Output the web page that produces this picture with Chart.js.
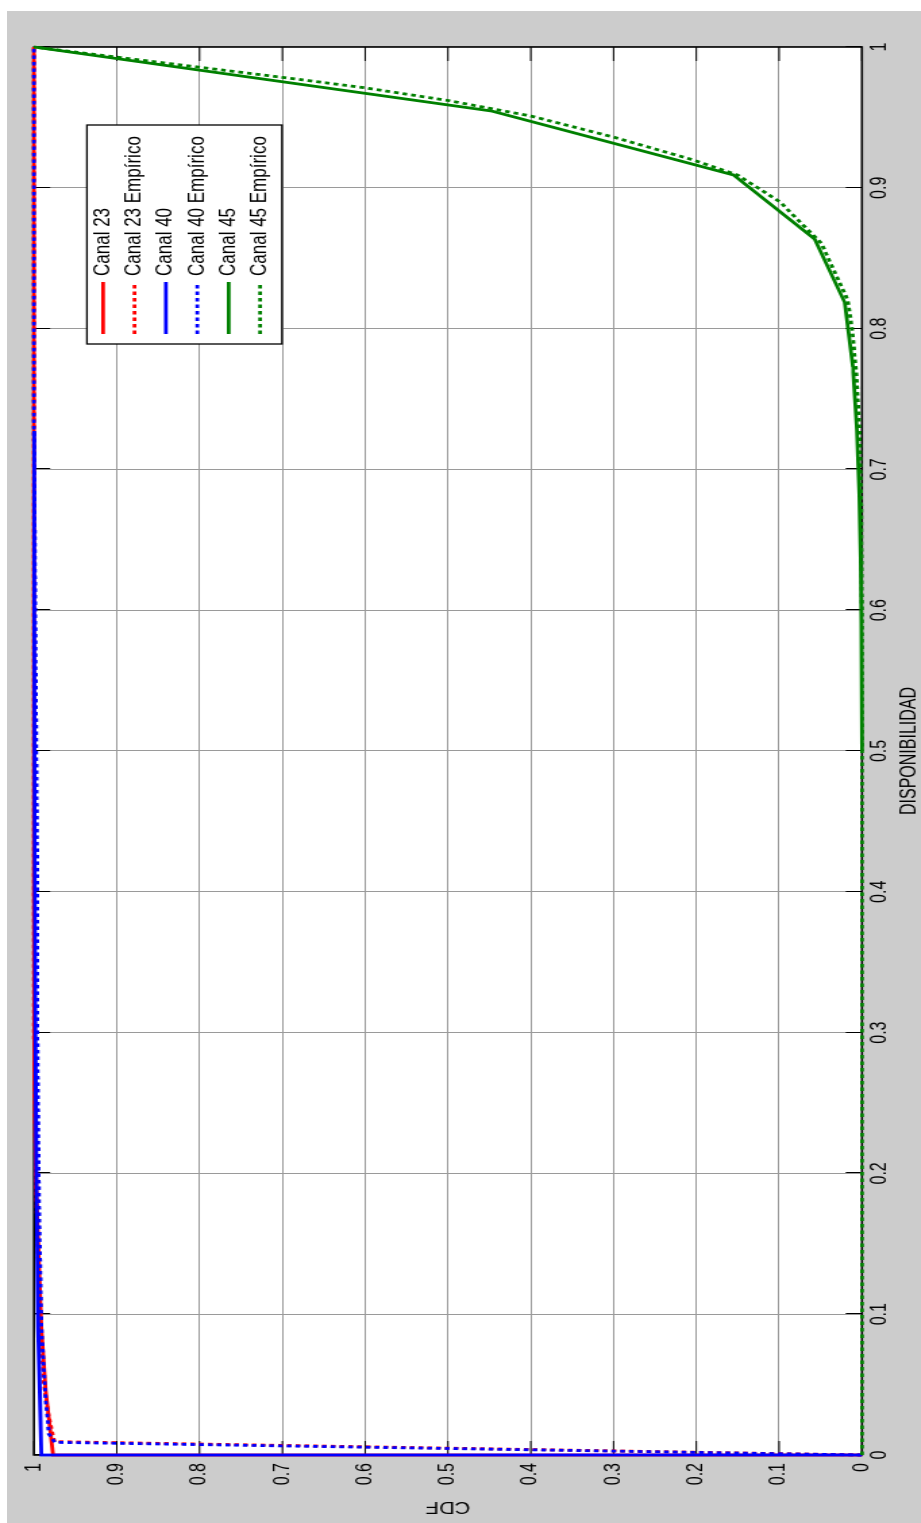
<!DOCTYPE html>
<html>
<head>
<meta charset="utf-8">
<script src="https://cdn.jsdelivr.net/npm/chart.js@4.4.0/dist/chart.umd.min.js"></script>
<style>
  html, body { margin: 0; padding: 0; background: #fff; }
  body { width: 921px; height: 1523px; position: relative; overflow: hidden; }
  .figure-bg { position: absolute; left: 7px; top: 11px; width: 914px; height: 1512px; background: #cccccc; }
  /* the figure is drawn landscape and turned a quarter turn counter-clockwise */
  .figure-rotated { position: absolute; left: 0; top: 0; width: 1523px; height: 921px;
    transform-origin: 0 0; transform: translate(0, 1523px) rotate(-90deg); }
  /* the source image is stretched vertically (tall narrow glyphs) */
  .figure-stretch { width: 1523px; height: 682px; transform-origin: 0 0; transform: scaleY(1.3504); }
</style>
</head>
<body>
<div class="figure-bg"></div>
<div class="figure-rotated"><div class="figure-stretch"><canvas id="js-cdf-chart" width="1523" height="682"></canvas></div></div>
<script>
const cdfCanvas = document.querySelector('#js-cdf-chart');

const tickValues = [0, 0.1, 0.2, 0.3, 0.4, 0.5, 0.6, 0.7, 0.8, 0.9, 1];
const xTickLabels = ['0', '0.1', '0.2', '0.3', '0.4', '0.5', '0.6', '0.7', '0.8', '0.9', '1'];
const yTickLabels = ['0', '0.1', '0.2', '0.3', '0.4', '0.5', '0.6', '0.7', '0.8', '0.9', '1'];

const seriesLabels = ['Canal 23', 'Canal 23 Empírico', 'Canal 40', 'Canal 40 Empírico', 'Canal 45', 'Canal 45 Empírico'];

const canal23X = [0, 0, 0.0455, 0.0909, 0.1364, 0.1818, 0.2273, 0.2727, 0.3182, 0.4, 1];
const canal23Y = [0, 0.977, 0.986, 0.991, 0.994, 0.997, 0.9985, 0.9993, 0.9997, 1, 1];

const canal23EmpX = [0, 0.0095, 0.013, 0.03, 0.05, 0.1, 0.2, 0.3, 1];
const canal23EmpY = [0, 0.975, 0.977, 0.983, 0.988, 0.993, 0.998, 1, 1];

const canal40X = [0, 0, 0.0455, 0.0909, 0.1364, 0.1818, 0.2273, 0.3182, 0.4545, 0.5909, 0.7273];
const canal40Y = [0, 0.991, 0.993, 0.995, 0.996, 0.997, 0.9975, 0.9985, 0.9992, 0.9996, 0.9998];

const canal40EmpX = [0, 0.009, 0.015, 0.04, 0.09, 0.18, 0.3, 0.41, 0.53, 0.645, 0.73, 1];
const canal40EmpY = [0, 0.975, 0.982, 0.986, 0.991, 0.994, 0.996, 0.996, 0.9976, 0.999, 1, 1];

const canal45X = [0.5, 0.5455, 0.5909, 0.6364, 0.6818, 0.7273, 0.7727, 0.8182, 0.8636, 0.9091, 0.9545, 1];
const canal45Y = [0, 0.0002, 0.0006, 0.0015, 0.003, 0.006, 0.011, 0.0205, 0.057, 0.155, 0.447, 1];

const canal45EmpX = [0, 0.6, 0.68, 0.73, 0.77, 0.8, 0.82, 0.8606, 0.89, 0.909, 0.92, 0.936, 0.951, 0.962, 0.971, 0.977, 1];
const canal45EmpY = [0, 0, 0.001, 0.003, 0.007, 0.012, 0.017, 0.049, 0.099, 0.15, 0.205, 0.30, 0.40, 0.50, 0.60, 0.68, 1];

const toPoints = (xs, ys) => xs.map((x, i) => ({ x: x, y: ys[i] }));

const solid = [];
const dotted = [3.5, 3];

function makeSeries(index, xs, ys, color, dash) {
  return {
    label: seriesLabels[index],
    data: toPoints(xs, ys),
    borderColor: color,
    backgroundColor: color,
    borderWidth: 2.8,
    borderDash: dash,
    pointRadius: 0,
    tension: 0,
    clip: 6,
    order: 5 - index
  };
}

const cdfData = {
  datasets: [
    makeSeries(0, canal23X, canal23Y, '#ff0000', solid),
    makeSeries(1, canal23EmpX, canal23EmpY, '#ff0000', dotted),
    makeSeries(2, canal40X, canal40Y, '#0000ff', solid),
    makeSeries(3, canal40EmpX, canal40EmpY, '#0000ff', dotted),
    makeSeries(4, canal45X, canal45Y, '#008000', solid),
    makeSeries(5, canal45EmpX, canal45EmpY, '#008000', dotted)
  ]
};

// white plot area, matlab style box with inward ticks, and the legend box
const matlabFrame = {
  id: 'matlabFrame',
  beforeDraw(chart) {
    const { ctx, chartArea: a } = chart;
    ctx.save();
    ctx.fillStyle = '#fff';
    ctx.fillRect(a.left, a.top, a.right - a.left, a.bottom - a.top);
    ctx.restore();
  },
  beforeDatasetsDraw(chart) {
    const { ctx, chartArea: a, scales } = chart;
    ctx.save();
    ctx.strokeStyle = '#000';
    ctx.lineWidth = 1;
    ctx.beginPath();
    for (const v of tickValues) {
      const px = Math.round(scales.x.getPixelForValue(v)) + 0.5;
      ctx.moveTo(px, a.bottom); ctx.lineTo(px, a.bottom - 12);
      ctx.moveTo(px, a.top); ctx.lineTo(px, a.top + 12);
      const py = scales.y.getPixelForValue(v);
      ctx.moveTo(a.left, py); ctx.lineTo(a.left + 14, py);
      ctx.moveTo(a.right, py); ctx.lineTo(a.right - 14, py);
    }
    ctx.stroke();
    ctx.lineWidth = 1.6;
    ctx.strokeRect(a.left, a.top, a.right - a.left, a.bottom - a.top);
    ctx.restore();
  },
  afterDatasetsDraw(chart) {
    const { ctx } = chart;
    const box = { left: 1179, top: 64.4, width: 219, height: 144.4 };
    const rowStart = 11.9;
    const rowStep = 23.25;
    ctx.save();
    ctx.fillStyle = '#fff';
    ctx.fillRect(box.left, box.top, box.width, box.height);
    ctx.strokeStyle = '#000';
    ctx.lineWidth = 1.3;
    ctx.strokeRect(box.left, box.top, box.width, box.height);
    ctx.font = '17px "Liberation Sans", Arial, sans-serif';
    ctx.textBaseline = 'middle';
    chart.data.datasets.forEach((ds, i) => {
      const rowY = box.top + rowStart + i * rowStep;
      ctx.strokeStyle = ds.borderColor;
      ctx.lineWidth = ds.borderWidth;
      ctx.setLineDash(ds.borderDash);
      ctx.beginPath();
      ctx.moveTo(box.left + 10, rowY);
      ctx.lineTo(box.left + 62, rowY);
      ctx.stroke();
      ctx.setLineDash([]);
      ctx.fillStyle = '#000';
      ctx.fillText(ds.label, box.left + 68, rowY);
    });
    ctx.restore();
  }
};

const cdfConfig = {
  type: 'line',
  data: cdfData,
  options: {
    responsive: false,
    animation: false,
    devicePixelRatio: 1,
    layout: {
      padding: { left: 0, right: 47, top: 25.2, bottom: 0 }
    },
    scales: {
      x: {
        type: 'linear',
        min: 0,
        max: 1,
        afterBuildTicks: (axis) => { axis.ticks = tickValues.map(v => ({ value: v })); },
        afterFit: (axis) => { axis.height = 43.7; },
        ticks: {
          color: '#000',
          padding: 4,
          maxRotation: 0,
          autoSkip: false,
          font: { size: 16 },
          callback: (value, index) => xTickLabels[index]
        },
        grid: { color: '#9a9a9a', lineWidth: 1, drawTicks: false },
        border: { display: false },
        title: {
          display: true,
          text: 'DISPONIBILIDAD',
          color: '#000',
          font: { size: 16, lineHeight: 1 },
          padding: { top: 0, bottom: 0 }
        }
      },
      y: {
        type: 'linear',
        min: 0,
        max: 1,
        afterBuildTicks: (axis) => { axis.ticks = tickValues.map(v => ({ value: v })); },
        afterFit: (axis) => { axis.width = 68; },
        ticks: {
          color: '#000',
          padding: 8,
          autoSkip: false,
          font: { size: 16 },
          callback: (value, index) => yTickLabels[index]
        },
        grid: { color: '#9a9a9a', lineWidth: 1, drawTicks: false },
        border: { display: false },
        title: {
          display: true,
          text: 'CDF',
          color: '#000',
          font: { size: 16, lineHeight: 1 },
          padding: { top: 9, bottom: 0 }
        }
      }
    },
    plugins: {
      legend: { display: false },
      tooltip: { enabled: false }
    }
  },
  plugins: [matlabFrame]
};

Chart.defaults.font.family = '"Liberation Sans", Arial, sans-serif';

new Chart(cdfCanvas, cdfConfig);
</script>
</body>
</html>
